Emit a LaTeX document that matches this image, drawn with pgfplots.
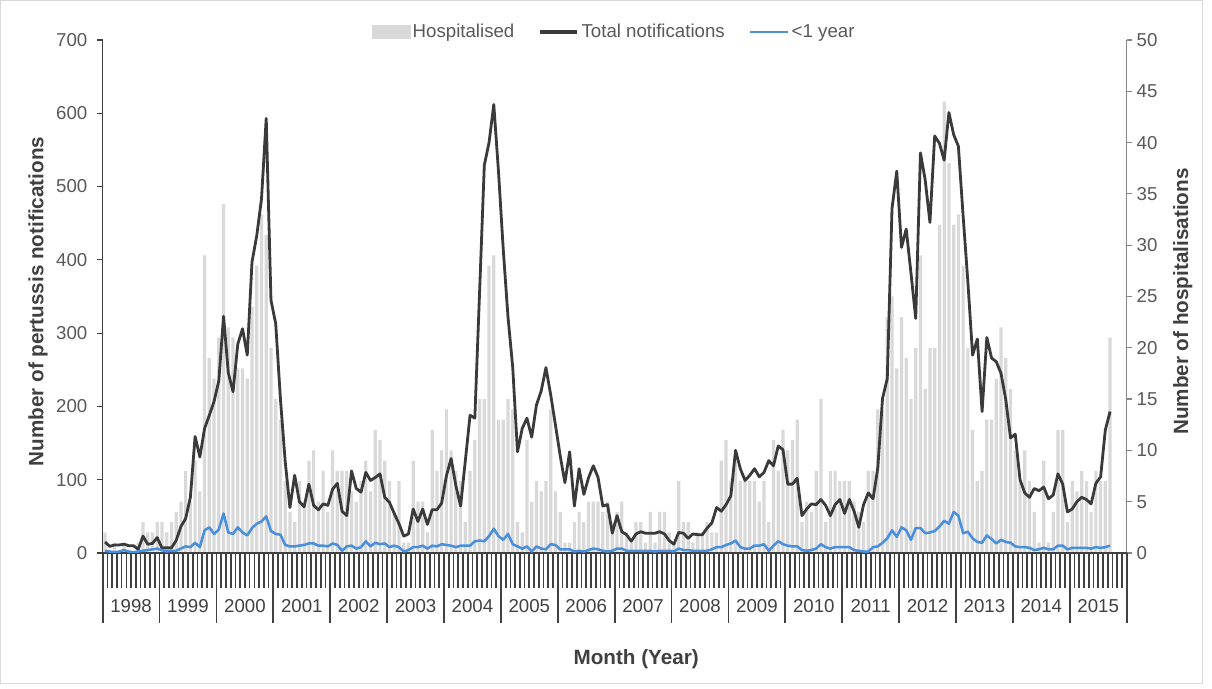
\documentclass[border=0pt]{standalone}
\usepackage{fontspec}
\setmainfont{Liberation Sans}
\usepackage{pgfplots}
\usepackage{pgfplotstable}
\pgfplotsset{compat=1.18}

\definecolor{hospbar}{HTML}{D9D9D9}
\definecolor{totline}{HTML}{3A3A3A}
\definecolor{infline}{HTML}{4A8FDC}
\definecolor{axisdark}{HTML}{404040}
\definecolor{rightgray}{HTML}{868686}
\definecolor{labelgray}{HTML}{595959}
\definecolor{titlegray}{HTML}{404040}
\definecolor{chartborder}{HTML}{D9D9D9}

% Monthly pertussis data, Jan 1998 (m = 0) to Sep 2015 (m = 212)
% tn = total notifications, hosp = hospitalised, inf = aged <1 year
\pgfplotstableread{
m tn hosp inf
0 15 2 3
1 9 0 2
2 11 1 1
3 11 0 2
4 12 1 4
5 10 0 2
6 10 0 1
7 5 1 2
8 23 3 3
9 12 2 4
10 13 2 5
11 21 3 6
12 7 3 4
13 7 2 2
14 7 3 3
15 17 4 3
16 36 5 6
17 47 8 9
18 76 5 8
19 159 9 14
20 131 6 8
21 170 29 31
22 188 19 35
23 207 17 26
24 235 21 32
25 323 34 54
26 246 22 28
27 220 21 26
28 285 18 35
29 306 18 28
30 270 17 24
31 397 24 34
32 433 28 40
33 483 33 43
34 593 31 50
35 345 20 30
36 313 15 26
37 210 13 25
38 125 7 11
39 62 4 9
40 106 3 9
41 70 7 10
42 63 5 11
43 94 9 13
44 65 10 13
45 59 5 10
46 67 8 10
47 65 4 9
48 87 10 13
49 95 8 11
50 57 8 3
51 51 8 9
52 112 6 10
53 88 5 6
54 83 7 8
55 110 9 16
56 99 6 9
57 103 12 14
58 108 11 12
59 76 9 13
60 69 7 8
61 54 4 10
62 40 7 8
63 23 1 2
64 26 1 4
65 60 9 8
66 43 5 8
67 60 5 10
68 39 2 6
69 59 12 10
70 59 8 9
71 68 10 12
72 105 14 11
73 129 10 10
74 92 8 8
75 64 7 10
76 126 3 10
77 188 8 10
78 184 11 16
79 355 15 17
80 529 15 16
81 560 28 23
82 612 29 33
83 520 13 23
84 414 13 18
85 322 15 26
86 253 14 12
87 138 3 9
88 170 2 6
89 184 11 9
90 158 5 2
91 202 7 9
92 221 6 6
93 253 7 5
94 216 14 12
95 175 6 11
96 133 4 5
97 96 1 5
98 138 1 5
99 64 3 2
100 115 4 3
101 80 3 2
102 103 5 4
103 119 5 6
104 103 5 5
105 64 4 3
106 66 5 2
107 27 3 3
108 51 4 6
109 29 5 6
110 25 2 3
111 16 1 3
112 26 3 3
113 29 3 3
114 27 1 3
115 27 4 3
116 27 1 2
117 29 4 3
118 26 4 3
119 17 2 3
120 12 1 2
121 28 7 6
122 27 3 4
123 20 3 4
124 26 1 3
125 25 2 3
126 25 2 3
127 34 3 3
128 41 2 5
129 62 2 8
130 57 9 8
131 66 11 11
132 78 7 13
133 140 9 17
134 115 7 8
135 99 7 6
136 106 7 6
137 115 7 10
138 104 5 10
139 110 7 12
140 126 3 3
141 119 11 10
142 146 8 16
143 141 12 12
144 94 10 10
145 94 11 9
146 102 13 9
147 51 3 4
148 60 5 3
149 67 4 4
150 66 8 6
151 73 15 12
152 65 3 8
153 51 8 6
154 66 8 8
155 73 7 8
156 54 7 8
157 73 7 8
158 57 5 4
159 35 4 3
160 66 3 2
161 82 8 2
162 74 8 8
163 116 14 9
164 211 14 14
165 238 23 20
166 470 25 31
167 521 18 22
168 417 23 35
169 442 19 31
170 382 15 18
171 320 20 34
172 546 29 34
173 509 16 27
174 451 20 28
175 569 20 30
176 559 32 36
177 536 44 44
178 601 38 40
179 571 32 56
180 555 33 51
181 460 28 27
182 370 20 29
183 270 12 20
184 292 7 15
185 193 8 14
186 294 13 24
187 266 13 19
188 261 17 13
189 245 22 18
190 209 19 15
191 157 16 14
192 162 10 9
193 100 7 8
194 82 10 8
195 76 7 7
196 88 4 4
197 85 1 5
198 90 9 7
199 74 1 5
200 79 4 5
201 108 12 10
202 94 12 10
203 56 3 5
204 60 7 7
205 70 6 7
206 76 8 7
207 73 7 7
208 67 4 6
209 95 8 8
210 104 7 7
211 168 7 8
212 193 21 10
}\monthly

\newcommand{\ticksize}{\fontsize{14}{16}\selectfont}
\newcommand{\titlesize}{\bfseries\fontsize{15.5}{18}\selectfont}

\begin{document}
\begin{tikzpicture}
\useasboundingbox (0pt,0pt) rectangle (909pt,516pt);
\fill[white] (0pt,0pt) rectangle (909pt,516pt);
\draw[chartborder, line width=0.75pt] (0.4pt,3pt) rectangle (902.2pt,515.6pt);

% hospitalisations on the right-hand axis, drawn first so the bars sit behind the lines
\begin{axis}[
  at={(77pt,101.25pt)}, anchor=south west,
  scale only axis, width=768pt, height=384.75pt,
  xmin=0, xmax=216, ymin=0, ymax=50,
  axis x line=none,
  axis y line*=right,
  y axis line style={draw=rightgray, line width=0.9pt, -},
  ytick={0,5,...,50},
  ytick style={draw=rightgray, line width=0.9pt},
  tick align=outside, major tick length=4pt,
  /pgf/number format/assume math mode=true,
  yticklabel style={font=\ticksize, text=labelgray},
  ylabel={Number of hospitalisations},
  ylabel style={font=\titlesize, text=titlegray, at={(axis description cs:1.0547,0.49)}, anchor=center},
]
\addplot[ybar, bar width=0.68, fill=hospbar, draw=none] table[x expr=\thisrow{m}+0.5, y=hosp]{\monthly};
\end{axis}

% notifications on the left-hand axis, with the month / year category axis
\begin{axis}[
  at={(77pt,101.25pt)}, anchor=south west,
  scale only axis, width=768pt, height=384.75pt,
  xmin=0, xmax=216, ymin=0, ymax=700,
  axis y line*=left, axis x line*=bottom,
  axis line style={draw=axisdark, line width=1.1pt, -},
  ytick={0,100,...,700},
  ytick style={draw=axisdark, line width=0.9pt},
  xtick={6,18,...,210},
  xticklabels={1998,1999,2000,2001,2002,2003,2004,2005,2006,2007,2008,2009,2010,2011,2012,2013,2014,2015},
  minor xtick={0,1,...,216},
  extra x ticks={0,12,...,216},
  extra x tick labels={},
  extra x tick style={major tick length=52.5pt, major x tick style={draw=axisdark, line width=1.3pt}},
  tick align=outside,
  major tick length=4pt,
  minor tick length=26.25pt,
  major x tick style={draw=none},
  minor x tick style={draw=axisdark, line width=1.3pt},
  /pgf/number format/assume math mode=true,
  yticklabel style={font=\ticksize, text=labelgray, xshift=-4pt},
  xticklabel style={font=\ticksize, text=titlegray, anchor=center, yshift=-36pt},
  ylabel={Number of pertussis notifications},
  ylabel style={font=\titlesize, text=titlegray, at={(axis description cs:-0.0632,0.49)}, anchor=center},
  xlabel={Month (Year)},
  xlabel style={font=\titlesize, text=titlegray, at={(axis description cs:0.521,-0.2066)}, anchor=center},
  legend style={at={(axis description cs:0.5,1.0156)}, anchor=center, draw=none, fill=none,
    legend columns=3, font=\ticksize, text=labelgray,
    /tikz/every even column/.append style={column sep=16pt}},
  legend cell align=left,
]
\addlegendimage{legend image code/.code={\fill[hospbar] (0pt,-5pt) rectangle (28pt,5pt);}}
\addlegendentry{Hospitalised}
\addplot[totline, line width=2.1pt, line join=round,
  legend image code/.code={\draw[totline, line width=2.4pt] (0pt,0pt) -- (28pt,0pt);}]
  table[x expr=\thisrow{m}+0.5, y=tn]{\monthly};
\addlegendentry{Total notifications}
\addplot[infline, line width=1.9pt, line join=round,
  legend image code/.code={\draw[infline, line width=2.2pt] (0pt,0pt) -- (28pt,0pt);}]
  table[x expr=\thisrow{m}+0.5, y=inf]{\monthly};
\addlegendentry{<1 year}
\end{axis}
\end{tikzpicture}
\end{document}
